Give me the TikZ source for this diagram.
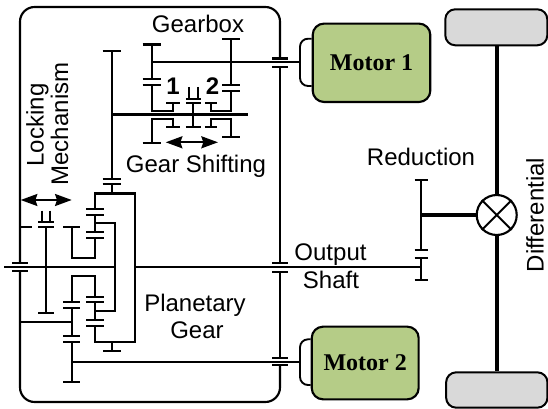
\documentclass[tikz,border=0pt]{standalone}
\usepackage{fontspec}
\setmainfont{Liberation Sans}
\newfontfamily\motorfont{Liberation Serif}
\usetikzlibrary{arrows.meta}
\definecolor{motorgreen}{HTML}{B5CC87}
\definecolor{wheelgray}{HTML}{D9D9D9}
\tikzset{
  gearline/.style={line width=1.55pt,line cap=butt,line join=miter},
  framepath/.style={line width=1.6pt,rounded corners=11pt},
  bellpath/.style={line width=1.4pt,rounded corners=6pt},
  axle/.style={line width=3.1pt},
  label/.style={font=\fontsize{18pt}{20pt}\selectfont,anchor=base,inner sep=0pt},
  motorbox/.style={draw,line width=1.6pt,fill=motorgreen,rounded corners=8.5pt,inner sep=0pt,font=\motorfont\bfseries\fontsize{18pt}{20pt}\selectfont},
  wheelbox/.style={draw,line width=1.5pt,fill=wheelgray,rounded corners=7.5pt,inner sep=0pt},
  shiftarrow/.style={line width=1.5pt,{Stealth[length=12.5pt,width=9pt,inset=1.5pt]}-{Stealth[length=12.5pt,width=9pt,inset=1.5pt]}},
}
\begin{document}
\begin{tikzpicture}[x=0.75pt,y=-0.75pt]
\useasboundingbox (0,0) rectangle (548,409);
% frame
\draw[framepath] (20,263) -- (20,7) -- (280,7) -- (280,58.5);
\draw[gearline] (280,66.7) -- (280,263) (280,272) -- (280,358);
\draw[framepath] (280,365) -- (280,402) -- (20,402) -- (20,271);
\draw[gearline] (20,227) -- (32,227);
% motors and wheels
\node[motorbox,minimum width=88.2pt,minimum height=58.8pt] (m1) at (371.5,62.8) {Motor 1};
\node[motorbox,minimum width=80.2pt,minimum height=54.5pt] (m2) at (365.2,363) {Motor 2};
\node[wheelbox,minimum width=76.5pt,minimum height=27pt] (w1) at (496.3,27.3) {};
\node[wheelbox,minimum width=76pt,minimum height=26.5pt] (w2) at (496.8,390) {};
\draw[bellpath] (m1.west |- 0,38.7) -- (300,38.7) -- (300,86) -- (m1.west |- 0,86);
\draw[bellpath] (m2.west |- 0,339.3) -- (300,339.3) -- (300,385) -- (m2.west |- 0,385);
% differential
\node[draw,circle,line width=1.6pt,minimum size=30pt,inner sep=0pt] (diff) at (496.7,215) {};
\draw[line width=1.5pt] (diff.45) -- (diff.225) (diff.135) -- (diff.315);
\coordinate (redhub) at (421,215);
\draw[axle] (w1.south -| diff) -- (diff.north);
\draw[axle] (diff.south) -- (w2.north -| diff);
\draw[axle] (redhub) -- (diff.west);
% gearbox
\draw[gearline] (111.7,51) -- (111.7,179) (111.7,184) -- (111.7,193.5);
\draw[gearline] (111.7,114.5) -- (248,114.5);
\draw[gearline] (151.7,62) -- (300,62);
\draw[gearline] (151.7,44.5) -- (151.7,79.3);
\draw[gearline] (151.7,85.3) -- (151.7,110.7) -- (173,110.7) -- (173,103.3);
\draw[gearline] (231,39.3) -- (231,85);
\draw[gearline] (231,91) -- (231,110.7) -- (210.8,110.7) -- (210.8,103.3);
\draw[gearline] (151.7,143.3) -- (151.7,119.3) -- (173,119.3) -- (173,126.7);
\draw[gearline] (231,136.7) -- (231,119.3) -- (210.8,119.3) -- (210.8,126.7);
\draw[gearline] (193.3,103.3) -- (193.3,126.7);
\draw[gearline] (189,87) -- (189,99) (197.7,87) -- (197.7,99);
\draw[shiftarrow] (165.7,142.3) -- (218,142.3);
% locking
\draw[gearline] (41.7,210.7) -- (41.7,221.7) (50,210.7) -- (50,221.7);
\draw[gearline] (46,227) -- (46,313.3);
\draw[shiftarrow] (20.7,200) -- (71.7,200);
% planetary
\draw[gearline] (95,209.3) -- (95,193.5) -- (135.3,193.5) -- (135.3,342.3) -- (95,342.3) -- (95,325.7);
\draw[gearline] (95,215) -- (95,232.3);
\draw[gearline] (95,223.3) -- (115,223.3) -- (115,310.7) -- (95,310.7);
\draw[gearline] (95,238.3) -- (95,258.3) -- (71.7,258.3) -- (71.7,226.7);
\draw[gearline] (95,296.7) -- (95,276) -- (71.7,276) -- (71.7,302.3);
\draw[gearline] (95,302.3) -- (95,320);
\draw[gearline] (71.7,307.7) -- (71.7,335.7) (71.7,342.3) -- (71.7,381.7);
\draw[gearline] (20,321.7) -- (71.7,321.7);
\draw[gearline] (71.7,361.7) -- (300,361.7);
\draw[gearline] (112.3,342.3) -- (112.3,351.3);
% main shaft
\draw[gearline] (4,267) -- (115,267);
\draw[gearline] (135.3,267) -- (421,267);
% reduction
\draw[gearline] (421,179.7) -- (421,250) (421,257.7) -- (421,280);
% teeth and plates
\foreach \x/\h/\ys in {111.7/9/{51,179,184},151.7/9/{44.5,79.3,85.3,143.3},231/9/{39.3,85,91,136.7},173/6.7/{103.3,126.7},210.8/6/{103.3,126.7},193.3/7.5/{99,103.3,126.7},46/8/{221.7,227,313.3},95/9/{209.3,215,232.3,238.3,296.7,302.3,320,325.7},71.7/8.7/{226.7,302.3,307.7,335.7,342.3,381.7},112.3/9/{351.3},421/6.5/{179.7,250,257.7,280},280/8/{58.5,66.7,263,272,358,365},20/8/{263,271}}{
  \foreach \y in \ys { \draw[gearline] (\x-\h,\y) -- (\x+\h,\y); }
}
% labels
\node[label] (tgb) at (198,33) {Gearbox};
\node[label] (tgs) at (196,173) {Gear Shifting};
\node[label,font=\bfseries\fontsize{18pt}{20pt}\selectfont] (t1) at (173,95) {1};
\node[label,font=\bfseries\fontsize{18pt}{20pt}\selectfont] (t2) at (212.5,95) {2};
\node[label,rotate=90] (tl) at (43.7,125) {Locking};
\node[label,rotate=90] (tm) at (68,124) {Mechanism};
\node[label] (tr) at (421,166) {Reduction};
\node[label] (to) at (330.5,260) {Output};
\node[label] (ts) at (331,288) {Shaft};
\node[label] (tp) at (195,311.7) {Planetary};
\node[label] (tg) at (197,338) {Gear};
\node[label,rotate=90] (td) at (543.5,215) {Differential};
\end{tikzpicture}
\end{document}
